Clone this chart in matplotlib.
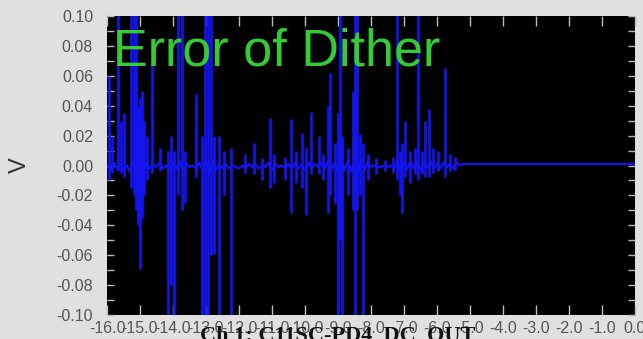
import numpy as np
import matplotlib.pyplot as plt

# Dither error trace, channel 1 (time in s, voltage in V)
spike_t = [-15.94, -15.85, -15.67, -15.58, -15.48, -15.27, -15.18, -15.12, -15.06, -15.00,
           -14.94, -14.88, -14.79, -14.64, -14.39, -14.15, -14.06, -13.97, -13.85, -13.73,
           -13.64, -13.30, -13.12, -13.03, -12.94, -12.85, -12.76, -12.61, -12.45, -12.24,
           -11.82, -11.55, -11.30, -11.06, -10.94, -10.61, -10.42, -10.27, -10.09, -9.97,
           -9.82, -9.58, -9.45, -9.30, -9.24, -9.09, -9.00, -8.94, -8.88, -8.70,
           -8.55, -8.48, -8.42, -8.33, -8.24, -8.09, -7.85, -7.58, -7.33, -7.21,
           -7.12, -7.06, -6.97, -6.82, -6.67, -6.58, -6.45, -6.36, -6.24, -6.12,
           -5.97, -5.76, -5.61, -5.45]
spike_hi = [0.060, 0.020, 0.110, 0.030, 0.035, 0.110, 0.110, 0.110, 0.040, 0.045,
            0.050, 0.030, 0.020, 0.068, 0.012, 0.010, 0.020, 0.010, 0.110, 0.110,
            0.010, 0.048, 0.020, 0.110, 0.110, 0.110, 0.020, 0.020, 0.010, 0.012,
            0.008, 0.015, 0.005, 0.032, 0.008, 0.006, 0.031, 0.010, 0.022, 0.012,
            0.036, 0.020, 0.008, 0.040, 0.062, 0.015, 0.035, 0.110, 0.020, 0.012,
            0.050, 0.110, 0.110, 0.021, 0.015, 0.008, 0.005, 0.004, 0.006, 0.110,
            0.010, 0.015, 0.030, 0.010, 0.012, 0.110, 0.010, 0.030, 0.038, 0.012,
            0.010, 0.065, 0.008, 0.006]
spike_lo = [-0.010, -0.005, -0.004, -0.005, -0.008, -0.015, -0.020, -0.030, -0.040, -0.069,
            -0.035, -0.020, -0.010, -0.005, -0.004, -0.110, -0.080, -0.110, -0.020, -0.030,
            -0.025, -0.008, -0.110, -0.110, -0.110, -0.060, -0.059, -0.110, -0.020, -0.110,
            -0.005, -0.006, -0.010, -0.015, -0.012, -0.010, -0.032, -0.012, -0.015, -0.033,
            -0.006, -0.006, -0.010, -0.032, -0.020, -0.025, -0.110, -0.050, -0.110, -0.020,
            -0.030, -0.110, -0.030, -0.020, -0.110, -0.010, -0.006, -0.004, -0.005, -0.010,
            -0.020, -0.032, -0.008, -0.012, -0.006, -0.010, -0.006, -0.008, -0.008, -0.005,
            -0.004, -0.008, -0.004, -0.003]

# baseline wander sampled every 0.1 s from -16.0 s to -5.2 s
base_v = [0.000, -0.003, 0.002, -0.002, 0.001, -0.003, 0.000, -0.004, 0.003, -0.005,
          0.004, -0.004, 0.002, -0.002, 0.001, -0.001, 0.002, -0.002, 0.000, -0.003,
          0.002, -0.002, 0.003, -0.003, 0.001, -0.001, 0.000, -0.002, 0.002, -0.004,
          0.004, -0.005, 0.003, -0.003, 0.001, -0.002, 0.001, -0.002, 0.000, -0.001,
          -0.002, 0.000, -0.002, 0.001, -0.001, 0.001, -0.002, 0.000, -0.001, 0.002,
          -0.003, 0.001, -0.001, 0.000, -0.002, 0.001, -0.003, 0.002, -0.002, 0.001,
          -0.003, 0.002, -0.002, 0.001, -0.001, 0.002, -0.002, 0.003, -0.003, 0.002,
          -0.004, 0.004, -0.003, 0.003, -0.004, 0.005, -0.005, 0.004, -0.003, 0.002,
          -0.001, 0.000, -0.001, -0.001, 0.000, -0.001, 0.000, -0.002, 0.003, -0.003,
          0.002, -0.002, 0.003, -0.002, 0.002, -0.003, 0.002, -0.002, 0.003, -0.002,
          0.001, -0.002, 0.002, -0.001, 0.001, -0.002, 0.002, 0.000, 0.001]
base_t = np.linspace(-16.0, -5.2, len(base_v))
tail_t = [-5.2, 0.0]
tail_v = [0.0007, 0.0007]

trace_color = '#1414f0'

fig = plt.figure(figsize=(6.43, 3.39), dpi=100)
fig.patch.set_facecolor('#e0e0e0')
ax = fig.add_axes([107 / 643, 24 / 339, 528 / 643, 299 / 339])
ax.set_facecolor('black')

ax.plot(base_t, base_v, color=trace_color, lw=1.6)
ax.plot(tail_t, tail_v, color=trace_color, lw=1.6)
ax.vlines(spike_t, spike_lo, spike_hi, color=trace_color, lw=1.9)

ax.set_xlim(-16, 0)
ax.set_ylim(-0.10, 0.10)
xt = np.arange(-16, 0.5, 1.0)
ax.set_xticks(xt)
ax.set_xticklabels(['%.1f' % v if v != 0 else '0.0' for v in xt])
yt = np.arange(-0.10, 0.101, 0.02)
ax.set_yticks(yt)
ax.set_yticks(np.arange(-0.10, 0.101, 0.01), minor=True)
ax.set_yticklabels(['%.2f' % v if abs(v) > 1e-9 else '0.00' for v in yt])

for lab in ax.get_xticklabels() + ax.get_yticklabels():
    lab.set_fontfamily('Liberation Sans')
    lab.set_fontsize(11.5)
    lab.set_color('#555555')

ax.tick_params(axis='both', which='both', direction='in', color='#bbbbbb',
               top=True, right=True, width=1.0)
ax.tick_params(axis='x', which='major', length=7, pad=4)
ax.tick_params(axis='y', which='both', length=5, pad=10)
for s in ax.spines.values():
    s.set_visible(False)

ax.text(0.011, 0.836, 'Error of Dither', transform=ax.transAxes, color='#33cc33',
        fontsize=37.5, fontfamily='Liberation Sans', va='baseline', ha='left')

fig.text(20 / 643, 1 - 165 / 339, 'V', rotation=90, ha='center', va='center',
         fontsize=17, color='#333333', fontfamily='Liberation Sans')
fig.text(200 / 643, -2 / 339, 'Ch 1: C11SC-PD4_DC_OUT', ha='left', va='baseline',
         fontsize=16, fontweight='bold', fontfamily='Liberation Serif', color='#111111')

fig.savefig('out.png', dpi=100, facecolor=fig.get_facecolor())
